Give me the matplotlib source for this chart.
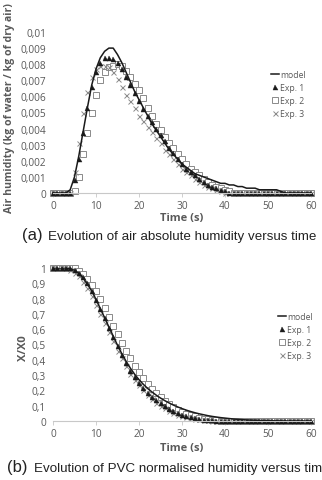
import matplotlib
matplotlib.use("Agg")
import matplotlib.pyplot as plt
import numpy as np

# ---------------- data ----------------
t = list(range(0, 61))

# (a) air absolute humidity (kg water / kg dry air)
model_a = [0, 0, 0, 0, 0.0002, 0.0010, 0.0023, 0.0038, 0.0053, 0.0067,
           0.0077, 0.0084, 0.0088, 0.0090, 0.0090, 0.0086, 0.0081, 0.0075, 0.0069, 0.0063,
           0.0058, 0.0053, 0.0048, 0.0043, 0.0039, 0.0035, 0.0031, 0.0027, 0.0024, 0.0021,
           0.0018, 0.0016, 0.0014, 0.0012, 0.0011, 0.0010, 0.0009, 0.0008, 0.0007, 0.0006,
           0.0006, 0.0005, 0.0005, 0.0004, 0.0004, 0.0003, 0.0003, 0.0003, 0.0002, 0.0002,
           0.0002, 0.0002, 0.0002, 0.0001, 0, 0, 0, 0, 0, 0, 0]
exp1_a = [0, 0, 0, 0, 0, 0.0008, 0.0021, 0.0037, 0.0053, 0.0066,
          0.0075, 0.0081, 0.0084, 0.0084, 0.0083, 0.0081, 0.0077, 0.0072, 0.0067, 0.0062,
          0.0057, 0.0052, 0.0048, 0.0044, 0.0040, 0.0036, 0.0032, 0.0028, 0.0025, 0.0021,
          0.0018, 0.0015, 0.0013, 0.0011, 0.0009, 0.0007, 0.0005, 0.0004, 0.0003, 0.0002,
          0.0001] + [0] * 20
exp2_a = [0, 0, 0, 0, 0, 0.0001, 0.0010, 0.0024, 0.0037, 0.0050,
          0.0061, 0.0070, 0.0075, 0.0078, 0.0079, 0.0080, 0.0079, 0.0076, 0.0072, 0.0068,
          0.0064, 0.0059, 0.0053, 0.0048, 0.0043, 0.0039, 0.0035, 0.0031, 0.0028, 0.0024,
          0.0021, 0.0018, 0.0015, 0.0013, 0.0011, 0.0009, 0.0007, 0.0005, 0.0004, 0.0003,
          0.0002, 0.0001] + [0] * 19
exp3_a = [0, 0, 0, 0, 0, 0.0013, 0.0031, 0.0050, 0.0063, 0.0072,
          0.0077, 0.0079, 0.0079, 0.0078, 0.0075, 0.0071, 0.0066, 0.0061, 0.0057, 0.0053,
          0.0048, 0.0045, 0.0041, 0.0038, 0.0034, 0.0031, 0.0027, 0.0024, 0.0021, 0.0018,
          0.0015, 0.0013, 0.0011, 0.0009, 0.0007, 0.0005, 0.0004, 0.0003, 0.0002, 0.0001,
          0] + [0] * 20

# (b) PVC normalised humidity X/X0
model_b = [1, 1, 1, 1, 0.995, 0.985, 0.965, 0.935, 0.895, 0.85,
           0.795, 0.735, 0.675, 0.615, 0.555, 0.495, 0.44, 0.39, 0.345, 0.305,
           0.27, 0.24, 0.213, 0.19, 0.169, 0.15, 0.133, 0.118, 0.104, 0.092,
           0.081, 0.071, 0.062, 0.054, 0.047, 0.041, 0.035, 0.030, 0.026, 0.022,
           0.019, 0.016, 0.013, 0.011, 0.009, 0.007, 0.006, 0.005, 0.004, 0.003,
           0.002, 0.0015, 0.001, 0.0005, 0, 0, 0, 0, 0, 0, 0]
exp1_b = [1, 1, 1, 1, 1.0, 0.99, 0.97, 0.94, 0.90, 0.85,
          0.79, 0.73, 0.67, 0.61, 0.55, 0.49, 0.43, 0.38, 0.33, 0.29,
          0.25, 0.215, 0.185, 0.16, 0.135, 0.115, 0.095, 0.078, 0.063, 0.05,
          0.04, 0.031, 0.024, 0.018, 0.013, 0.009, 0.006, 0.004, 0.002, 0.001,
          0] + [0] * 20
exp2_b = [1, 1, 1, 1, 1, 1.0, 0.98, 0.96, 0.93, 0.89,
          0.85, 0.80, 0.74, 0.68, 0.62, 0.57, 0.51, 0.46, 0.41, 0.36,
          0.32, 0.28, 0.24, 0.21, 0.18, 0.155, 0.13, 0.11, 0.09, 0.075,
          0.06, 0.048, 0.038, 0.030, 0.022, 0.016, 0.011, 0.007, 0.004, 0.002,
          0.001] + [0] * 20
exp3_b = [1, 1, 1, 1, 0.99, 0.97, 0.95, 0.91, 0.87, 0.82,
          0.76, 0.70, 0.64, 0.58, 0.52, 0.46, 0.41, 0.36, 0.31, 0.27,
          0.235, 0.20, 0.17, 0.145, 0.12, 0.10, 0.082, 0.066, 0.053, 0.042,
          0.033, 0.025, 0.019, 0.014, 0.010, 0.007, 0.004, 0.002, 0.001, 0,
          0] + [0] * 20

x_ticks = [0, 10, 20, 30, 40, 50, 60]
y_ticks_a = [0, 0.001, 0.002, 0.003, 0.004, 0.005, 0.006, 0.007, 0.008, 0.009, 0.01]
y_labels_a = ["0", "0,001", "0,002", "0,003", "0,004", "0,005", "0,006", "0,007",
              "0,008", "0,009", "0,01"]
y_ticks_b = [0, 0.1, 0.2, 0.3, 0.4, 0.5, 0.6, 0.7, 0.8, 0.9, 1]
y_labels_b = ["0", "0,1", "0,2", "0,3", "0,4", "0,5", "0,6", "0,7", "0,8", "0,9", "1"]

series_names = ["model", "Exp. 1", "Exp. 2", "Exp. 3"]
caption_a = "Evolution of air absolute humidity versus time"
caption_b = "Evolution of PVC normalised humidity versus time"

# ---------------- figure ----------------
W, H = 322, 481
fig = plt.figure(figsize=(W / 100, H / 100), dpi=100)
fig.patch.set_facecolor("white")

FONT = "Open Sans"
GRAY = "#595959"


def px_axes(x0, x1, ytop, ybot):
    return fig.add_axes([x0 / W, 1 - ybot / H, (x1 - x0) / W, (ybot - ytop) / H])


def style(ax, ylim, yticks, ylabels):
    ax.set_xlim(0, 60)
    ax.set_ylim(*ylim)
    for s in ["top", "right", "left"]:
        ax.spines[s].set_visible(False)
    ax.spines["bottom"].set_color("#c8c8c8")
    ax.spines["bottom"].set_linewidth(0.8)
    ax.set_xticks(x_ticks)
    ax.set_xticklabels([str(v) for v in x_ticks], fontfamily=FONT, fontsize=7.3, color=GRAY)
    ax.set_yticks(yticks)
    ax.set_yticklabels(ylabels, fontfamily=FONT, fontsize=7.3, color=GRAY)
    ax.tick_params(axis="x", length=3, width=0.6, color="#c8c8c8", pad=2, direction="out")
    ax.tick_params(axis="y", length=0, pad=5)
    ax.set_facecolor("white")


def draw(ax, model, e1, e2, e3):
    ax.plot(t, e2, linestyle="none", marker="s", markersize=4.4, markerfacecolor="white",
            markeredgecolor="#8a8a8a", markeredgewidth=0.7, label=series_names[2], clip_on=False)
    ax.plot(t, e3, linestyle="none", marker="x", markersize=3.6, color="#8a8a8a",
            markeredgewidth=0.7, label=series_names[3], clip_on=False)
    ax.plot(t, e1, linestyle="none", marker="^", markersize=3.6, color="#1a1a1a",
            markeredgewidth=0.3, label=series_names[1], clip_on=False)
    ax.plot(t, model, color="#1a1a1a", linewidth=1.1, label=series_names[0], zorder=5)


def legend(ax, bbox):
    h, l = ax.get_legend_handles_labels()
    order = [l.index(n) for n in series_names]
    leg = fig.legend([h[i] for i in order], [l[i] for i in order],
                     loc="upper left", bbox_to_anchor=bbox, frameon=False,
                     handlelength=0.9, handletextpad=0.2, labelspacing=0.45,
                     borderaxespad=0, borderpad=0, numpoints=1,
                     prop={"family": FONT, "size": 6.2})
    for txt in leg.get_texts():
        txt.set_color(GRAY)


# ---- (a)
ax1 = px_axes(53, 311, 33, 194)
style(ax1, (0, 0.01), y_ticks_a, y_labels_a)
draw(ax1, model_a, exp1_a, exp2_a, exp3_a)
legend(ax1, (271 / W, 1 - 71 / H))
fig.text(182 / W, 1 - 219 / H, "Time (s)", ha="center", va="center",
         fontfamily=FONT, fontweight="bold", fontsize=8, color=GRAY)
fig.text(10 / W, 1 - 108 / H, "Air humidity (kg of water / kg of dry air)", rotation=90,
         ha="center", va="center", fontfamily=FONT, fontweight="bold", fontsize=7.6, color=GRAY)
fig.text(22 / W, 1 - 236 / H, "(a)", ha="left", va="center",
         fontfamily="Liberation Sans", fontsize=12, color="#222222")
fig.text(48 / W, 1 - 237 / H, caption_a, ha="left", va="center",
         fontfamily="Liberation Sans", fontsize=9.6, color="#222222")

# ---- (b)
ax2 = px_axes(53, 311, 269, 422)
style(ax2, (0, 1), y_ticks_b, y_labels_b)
draw(ax2, model_b, exp1_b, exp2_b, exp3_b)
legend(ax2, (278 / W, 1 - 313 / H))
fig.text(182 / W, 1 - 449 / H, "Time (s)", ha="center", va="center",
         fontfamily=FONT, fontweight="bold", fontsize=8, color=GRAY)
fig.text(24 / W, 1 - 348 / H, "X/X0", rotation=90,
         ha="center", va="center", fontfamily=FONT, fontweight="bold", fontsize=8, color=GRAY)
fig.text(7 / W, 1 - 468 / H, "(b)", ha="left", va="center",
         fontfamily="Liberation Sans", fontsize=12, color="#222222")
fig.text(34 / W, 1 - 469 / H, caption_b, ha="left", va="center",
         fontfamily="Liberation Sans", fontsize=9.6, color="#222222")

fig.savefig("out.png", dpi=100, facecolor="white")
